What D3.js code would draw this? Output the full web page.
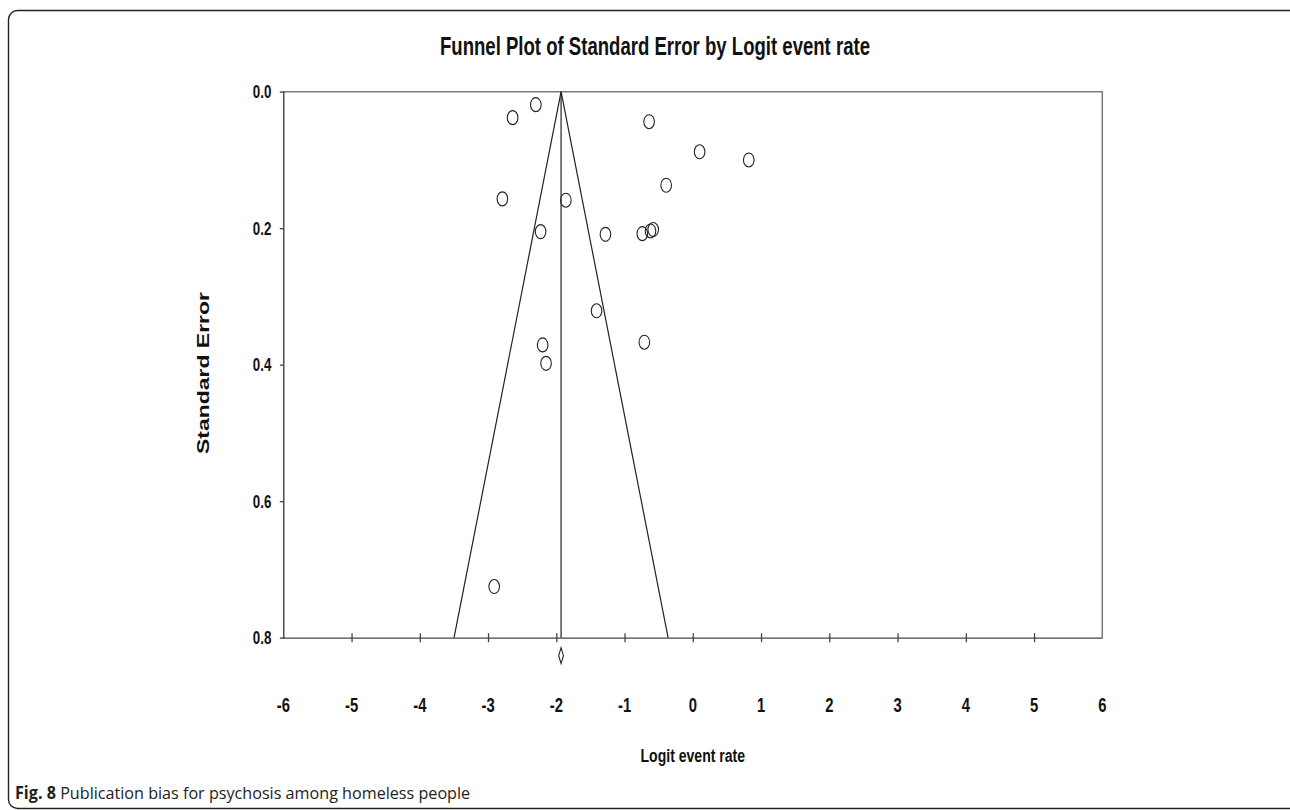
<!DOCTYPE html>
<html>
<head>
<meta charset="utf-8">
<script src="https://cdn.jsdelivr.net/npm/d3@7"></script>
<style>
  body { margin: 0; background: #fff; }
  .narrow { font-family: 'Liberation Sans', Arial, sans-serif; font-weight: bold; fill: #111; }
  .caption { font-family: 'Open Sans', 'Noto Sans', sans-serif; fill: #222; }
</style>
</head>
<body>
<div id="chart"></div>
<script>
// study estimates
const logitRate = [-2.30, -2.64, -0.64, 0.10, 0.82, -0.39, -2.79, -1.86, -2.23, -1.28, -0.74, -0.62, -0.58, -1.41, -2.20, -0.71, -2.15, -2.91]
const stdError = [0.019, 0.038, 0.044, 0.088, 0.100, 0.137, 0.157, 0.159, 0.205, 0.209, 0.208, 0.204, 0.202, 0.321, 0.371, 0.367, 0.398, 0.725]
const pooled = -1.93
const pooledCI = [-1.965, -1.895]
const xTicks = [-6, -5, -4, -3, -2, -1, 0, 1, 2, 3, 4, 5, 6]
const yTicks = [0.0, 0.2, 0.4, 0.6, 0.8]

const W = 1290, H = 810
const margin = { top: 91.7, left: 283.3, right: W - 1102.3, bottom: H - 637.7 }
const width = W - margin.left - margin.right
const height = H - margin.top - margin.bottom

// bold labels in the original are a condensed face, squeeze them horizontally
const squeeze = 0.74

const svg = d3.select('#chart').append('svg')
    .attr('width', W)
    .attr('height', H)

// figure frame
svg.append('rect')
    .attr('x', 8.5).attr('y', 10.5)
    .attr('width', W + 10).attr('height', 798)
    .attr('rx', 9)
    .attr('fill', 'none')
    .attr('stroke', '#222')
    .attr('stroke-width', 1.4)

svg.append('text')
    .attr('class', 'narrow')
    .attr('x', 440).attr('y', 55)
    .attr('textLength', 430)
    .attr('lengthAdjust', 'spacingAndGlyphs')
    .style('font-size', '26px')
    .text('Funnel Plot of Standard Error by Logit event rate')

const g = svg.append('g')
    .attr('transform', `translate(${margin.left}, ${margin.top})`)

const x = d3.scaleLinear().domain([-6, 6]).range([0, width])
const y = d3.scaleLinear().domain([0, 0.8]).range([0, height])

// top and right border of plot area
g.append('path')
    .attr('d', `M0,0H${width}V${height}`)
    .attr('fill', 'none')
    .attr('stroke', '#7a7a7a')
    .attr('stroke-width', 1.5)

const xAxis = g.append('g')
    .attr('transform', `translate(0, ${height})`)
    .call(d3.axisBottom(x).tickValues(xTicks.slice(1, -1)).tickSize(0).tickFormat(''))
xAxis.select('.domain').attr('stroke', '#444').attr('stroke-width', 1.3)
xAxis.selectAll('.tick line').attr('y1', -4.5).attr('y2', 4.5).attr('stroke', '#444').attr('stroke-width', 1.3)

const yAxis = g.append('g')
    .call(d3.axisLeft(y).tickValues(yTicks.slice(1, -1)).tickSize(3.5).tickFormat(''))
yAxis.select('.domain').attr('stroke', '#333').attr('stroke-width', 1.3)
yAxis.selectAll('.tick line').attr('stroke', '#333').attr('stroke-width', 1.2)

g.selectAll('.xlab').data(xTicks).enter().append('text')
    .attr('class', 'narrow')
    .attr('transform', d => `translate(${x(d)}, ${height + 74}) scale(${squeeze}, 1)`)
    .attr('text-anchor', 'middle')
    .style('font-size', '20px')
    .text(d => d)

g.selectAll('.ylab').data(yTicks).enter().append('text')
    .attr('class', 'narrow')
    .attr('transform', d => `translate(-12, ${y(d) + 6.5}) scale(${squeeze}, 1)`)
    .attr('text-anchor', 'end')
    .style('font-size', '18px')
    .text(d => d.toFixed(1))

g.append('text')
    .attr('class', 'narrow')
    .attr('transform', `translate(${width / 2}, ${height + 124}) scale(${squeeze}, 1)`)
    .attr('text-anchor', 'middle')
    .style('font-size', '19px')
    .text('Logit event rate')

svg.append('text')
    .attr('transform', 'translate(209, 373) rotate(-90)')
    .attr('text-anchor', 'middle')
    .attr('textLength', 162)
    .attr('lengthAdjust', 'spacingAndGlyphs')
    .style('font-family', "'Liberation Sans', Arial, sans-serif")
    .style('font-weight', 'bold')
    .style('font-size', '17px')
    .style('fill', '#111')
    .text('Standard Error')

// funnel: pooled estimate +/- 1.96 SE
const funnel = [[pooled - 1.96 * 0.8, 0.8], [pooled, 0], [pooled + 1.96 * 0.8, 0.8]]
g.append('path')
    .attr('d', d3.line().x(d => x(d[0])).y(d => y(d[1]))(funnel))
    .attr('fill', 'none')
    .attr('stroke', '#222')
    .attr('stroke-width', 1.2)

g.append('line')
    .attr('x1', x(pooled)).attr('x2', x(pooled))
    .attr('y1', 0).attr('y2', height)
    .attr('stroke', '#222')
    .attr('stroke-width', 1.2)

// pooled diamond below axis
const dy = height + 18
g.append('path')
    .attr('d', `M${x(pooledCI[0])},${dy}L${x(pooled)},${dy - 8}L${x(pooledCI[1])},${dy}L${x(pooled)},${dy + 8}Z`)
    .attr('fill', 'none')
    .attr('stroke', '#222')
    .attr('stroke-width', 1.1)

g.selectAll('.study').data(logitRate).enter().append('ellipse')
    .attr('cx', d => x(d))
    .attr('cy', (d, i) => y(stdError[i]))
    .attr('rx', 5.3)
    .attr('ry', 7)
    .attr('fill', 'none')
    .attr('stroke', '#222')
    .attr('stroke-width', 1.1)

const cap = svg.append('text')
    .attr('class', 'caption')
    .attr('transform', 'translate(15, 799) scale(0.95, 1)')
    .style('font-size', '17px')
cap.append('tspan').style('font-weight', 'bold').text('Fig. 8')
cap.append('tspan').text(' Publication bias for psychosis among homeless people')
</script>
</body>
</html>
